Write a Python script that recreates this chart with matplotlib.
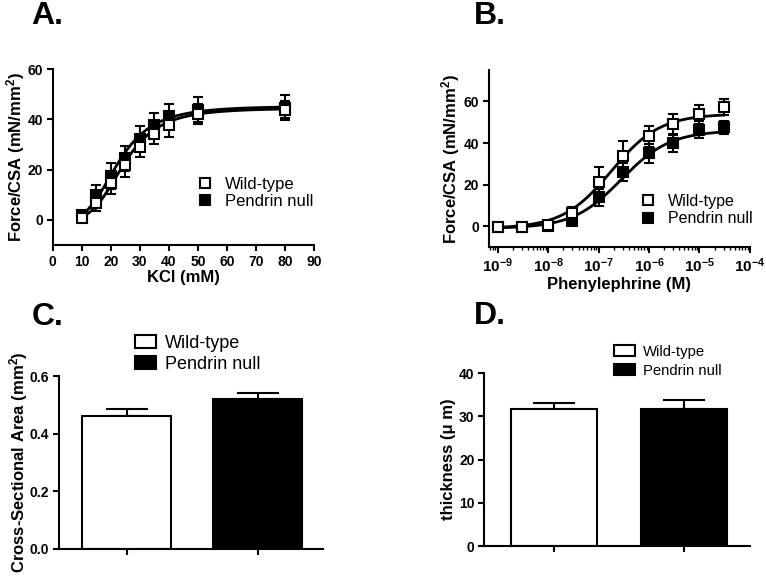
import numpy as np
import matplotlib.pyplot as plt
from matplotlib.patches import Patch
from matplotlib.lines import Line2D
from matplotlib.ticker import FixedLocator, LogLocator, NullFormatter

plt.rcParams['font.family'] = ['Liberation Sans', 'DejaVu Sans']
plt.rcParams['font.weight'] = 'bold'
plt.rcParams['mathtext.fontset'] = 'custom'
plt.rcParams['mathtext.rm'] = 'Liberation Sans:bold'
plt.rcParams['mathtext.bf'] = 'Liberation Sans:bold'
plt.rcParams['mathtext.it'] = 'Liberation Sans:bold'

# ---- panel A: KCl concentration-response ----
kcl = [10, 15, 20, 25, 30, 35, 40, 50, 80]
kcl_wt = [0.5, 6.5, 14.8, 21.7, 28.9, 34.2, 37.6, 42.3, 43.9]
kcl_wt_err = [1.0, 3.0, 4.5, 4.5, 4.0, 4.0, 4.5, 4.0, 3.5]
kcl_pn = [2.0, 10.0, 17.4, 24.5, 32.2, 37.6, 41.2, 43.9, 44.7]
kcl_pn_err = [1.0, 4.0, 5.0, 5.0, 5.0, 5.0, 5.0, 5.0, 5.0]
# fitted sigmoid parameters (bottom, top, EC50, hill)
kcl_fit_wt = (0.0, 44.5, 24.5, 4.0)
kcl_fit_pn = (0.0, 45.3, 22.5, 3.7)

# ---- panel B: phenylephrine concentration-response ----
pe = [1e-9, 3e-9, 1e-8, 3e-8, 1e-7, 3e-7, 1e-6, 3e-6, 1e-5, 3e-5]
pe_wt = [-0.5, -0.3, 0.8, 6.5, 21.5, 34.0, 43.2, 49.0, 53.8, 57.4]
pe_wt_err = [1.0, 1.0, 1.0, 3.0, 7.0, 7.0, 5.0, 5.0, 4.5, 4.0]
pe_pn = [-0.5, -0.3, 0.0, 2.5, 13.9, 26.1, 35.0, 40.0, 46.5, 47.6]
pe_pn_err = [1.0, 1.0, 1.0, 1.0, 4.0, 4.5, 4.5, 4.5, 4.0, 3.0]
# fitted parameters (bottom, top, logEC50, hill)
pe_fit_wt = (-1.0, 54.0, -6.75, 0.9)
pe_fit_pn = (-1.0, 46.0, -6.55, 0.9)

# ---- panels C and D: bars ----
groups = ['Wild-type', 'Pendrin null']
csa = [0.46, 0.52]
csa_err = [0.025, 0.023]
thick = [31.7, 31.7]
thick_err = [1.3, 2.0]

fig = plt.figure(figsize=(7.66, 5.76), dpi=100)


def style(ax):
    for s in ['top', 'right']:
        ax.spines[s].set_visible(False)
    for s in ['left', 'bottom']:
        ax.spines[s].set_linewidth(1.5)
    ax.tick_params(width=1.5, length=4, labelsize=10, direction='out', pad=3)
    for lab in ax.get_xticklabels() + ax.get_yticklabels():
        lab.set_fontweight('bold')


def curve_points(ax, x, wt, wt_err, pn, pn_err):
    ax.errorbar(x, wt, yerr=wt_err, fmt='s', color='black', mfc='white',
                mec='black', ms=6.5, mew=1.5, elinewidth=1.5, capsize=3.5,
                capthick=1.5, zorder=4)
    ax.errorbar(x, pn, yerr=pn_err, fmt='s', color='black', mfc='black',
                ms=6.5, mew=1.5, elinewidth=1.5, capsize=3.5, capthick=1.5,
                zorder=3)


marker_handles = [
    Line2D([], [], marker='s', ls='none', mfc='white', mec='black', ms=7, mew=1.5),
    Line2D([], [], marker='s', ls='none', mfc='black', mec='black', ms=7, mew=1.5),
]

# A
axA = fig.add_axes([0.069, 0.575, 0.341, 0.305])
xs = np.linspace(10, 80, 300)
for b, t, ec, n in [kcl_fit_wt, kcl_fit_pn]:
    axA.plot(xs, b + (t - b) / (1 + (ec / xs) ** n), color='black', lw=2, zorder=2)
curve_points(axA, kcl, kcl_wt, kcl_wt_err, kcl_pn, kcl_pn_err)
axA.set_xlim(0, 90)
axA.set_ylim(-10, 60)
axA.set_xticks(range(0, 91, 10))
axA.set_yticks([0, 20, 40, 60])
axA.set_xlabel('KCl (mM)', fontsize=12, fontweight='bold', labelpad=1)
axA.set_ylabel('Force/CSA (mN/mm$^2$)', fontsize=12, fontweight='bold', labelpad=0.5)
axA.legend(marker_handles, groups, loc='center left', bbox_to_anchor=(0.485, 0.295),
           frameon=False, handletextpad=0.6, labelspacing=0.15, handlelength=1.2,
           prop={'weight': 'normal', 'size': 12})
style(axA)

# B
axB = fig.add_axes([0.638, 0.571, 0.341, 0.307])
lx = np.linspace(-9, np.log10(3e-5), 300)
for b, t, lec, n in [pe_fit_wt, pe_fit_pn]:
    axB.plot(10 ** lx, b + (t - b) / (1 + 10 ** ((lec - lx) * n)),
             color='black', lw=2, zorder=2)
curve_points(axB, pe, pe_wt, pe_wt_err, pe_pn, pe_pn_err)
axB.set_xscale('log')
axB.set_xlim(10 ** -9.18, 1e-4)
axB.set_ylim(-10, 75)
axB.set_yticks([0, 20, 40, 60])
dec = [1e-9, 1e-8, 1e-7, 1e-6, 1e-5, 1e-4]
axB.xaxis.set_major_locator(FixedLocator(dec))
axB.set_xticklabels(['$10^{%d}$' % int(np.log10(d)) for d in dec])
axB.xaxis.set_minor_locator(LogLocator(base=10, subs=np.arange(2, 10)))
axB.xaxis.set_minor_formatter(NullFormatter())
axB.tick_params(which='minor', length=2.5, width=1)
axB.set_xlabel('Phenylephrine (M)', fontsize=12, fontweight='bold', labelpad=1)
axB.set_ylabel('Force/CSA (mN/mm$^2$)', fontsize=12, fontweight='bold', labelpad=1)
axB.legend(marker_handles, groups, loc='center left', bbox_to_anchor=(0.52, 0.21),
           frameon=False, handletextpad=0.6, labelspacing=0.15, handlelength=1.2,
           prop={'weight': 'normal', 'size': 11.5})
style(axB)
for lab in axB.get_xticklabels():
    lab.set_fontsize(11)

# C
axC = fig.add_axes([0.077, 0.047, 0.345, 0.300])
pos = np.arange(len(groups))
cols = ['white', 'black']
axC.bar(pos, csa, width=0.68, color=cols, edgecolor='black', linewidth=1.5, zorder=2)
axC.errorbar(pos, csa, yerr=[[0, 0], csa_err], fmt='none', ecolor='black',
             elinewidth=1.5, capsize=15, capthick=1.5, zorder=1)
axC.set_xlim(-0.515, 1.5)
axC.set_ylim(0, 0.6)
axC.set_yticks([0.0, 0.2, 0.4, 0.6])
axC.set_yticklabels(['0.0', '0.2', '0.4', '0.6'])
axC.set_xticks(pos)
axC.set_xticklabels(['', ''])
axC.set_ylabel('Cross-Sectional Area (mm$^2$)', fontsize=12, fontweight='bold', labelpad=0)
handles = [Patch(facecolor=c, edgecolor='black', linewidth=1.5) for c in cols]
axC.legend(handles, groups, loc='lower left', bbox_to_anchor=(0.225, 0.925),
           frameon=False, handlelength=1.2, handleheight=0.7,
           handletextpad=0.5, labelspacing=0.22,
           prop={'weight': 'normal', 'size': 13})
style(axC)

# D
axD = fig.add_axes([0.632, 0.052, 0.347, 0.300])
axD.bar(pos, thick, width=0.66, color=cols, edgecolor='black', linewidth=1.5, zorder=2)
axD.errorbar(pos, thick, yerr=[[0, 0], thick_err], fmt='none', ecolor='black',
             elinewidth=1.5, capsize=15, capthick=1.5, zorder=1)
axD.set_xlim(-0.54, 1.51)
axD.set_ylim(0, 40)
axD.set_yticks([0, 10, 20, 30, 40])
axD.set_xticks(pos)
axD.set_xticklabels(['', ''])
axD.set_ylabel('thickness (\u03bc m)', fontsize=12, fontweight='bold', labelpad=2)
axD.legend(handles, groups, loc='lower left', bbox_to_anchor=(0.44, 0.895),
           frameon=False, handlelength=1.4, handleheight=0.75,
           handletextpad=0.55, labelspacing=0.35,
           prop={'weight': 'normal', 'size': 10.7})
style(axD)

for x, y, t in [(0.041, 0.998, 'A.'), (0.618, 0.998, 'B.'),
                (0.041, 0.476, 'C.'), (0.618, 0.478, 'D.')]:
    fig.text(x, y, t, fontsize=23, fontweight='bold', va='top', ha='left')

fig.savefig('out.png', dpi=100)
